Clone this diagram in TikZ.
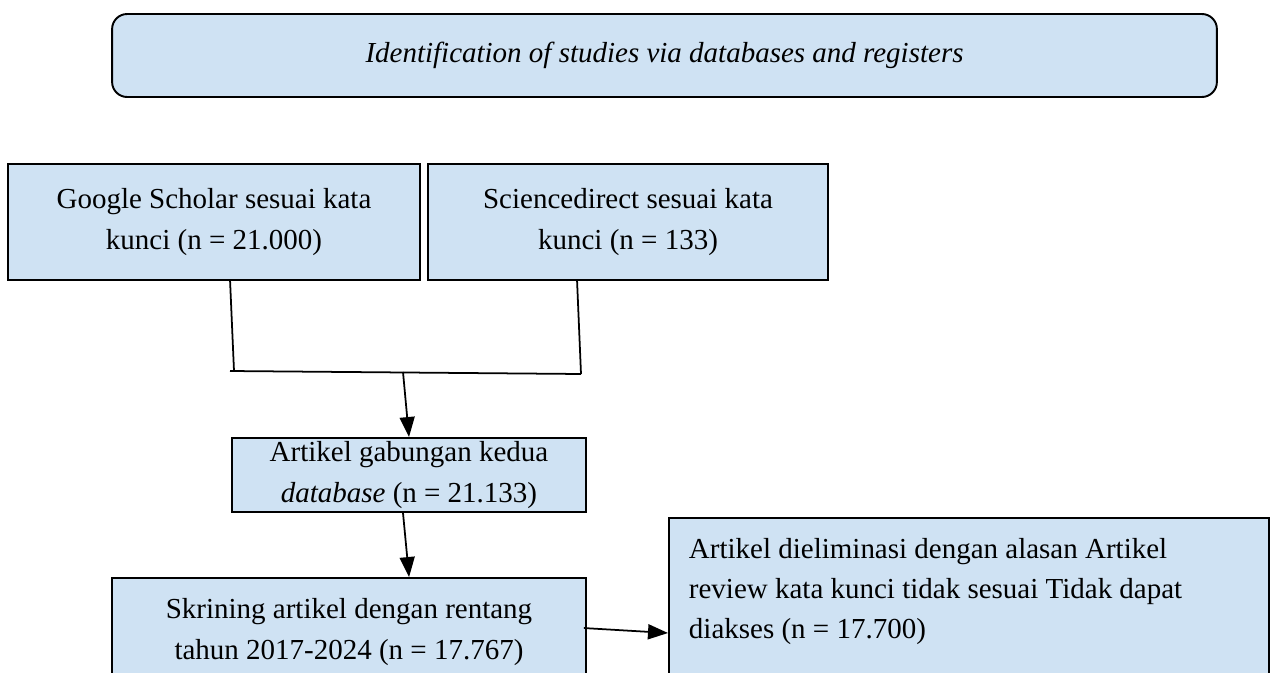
\documentclass[tikz,border=0pt]{standalone}
\usepackage{fontspec}
\setmainfont{Liberation Serif}
\usetikzlibrary{arrows.meta,calc}
\definecolor{boxblue}{HTML}{CFE2F3}
\begin{document}
\begin{tikzpicture}[
            x=0.02cm, y=-0.02cm,
            >={Triangle[length=0.4cm,width=0.3cm]},
            font=\fontsize{16.5}{22.8}\selectfont,
            box/.style={rectangle, draw, line width=1.1pt, fill=boxblue, align=center, inner sep=0pt},
            head/.style={box, rounded corners=0.3cm},
            link/.style={line width=1pt},
            ]
            \useasboundingbox (0,0) rectangle (1275,673);
            \clip (0,0) rectangle (1275,673);
            \node (id) [head, minimum width=22.1cm, minimum height=1.66cm] at (664.5,55.5) {\itshape Identification of studies via databases and registers};
            \node (gs) [box, minimum width=8.24cm, minimum height=2.32cm] at (214,222) {Google Scholar sesuai kata\\kunci (n = 21.000)};
            \node (sd) [box, minimum width=8.0cm, minimum height=2.32cm] at (628,222) {Sciencedirect sesuai kata\\kunci (n = 133)};
            \node (ag) [box, minimum width=7.08cm, minimum height=1.48cm] at (409,475) {Artikel gabungan kedua\\\textit{database} (n = 21.133)};
            \node (sk) [box, minimum width=9.48cm, minimum height=2.16cm] at (349,632) {Skrining artikel dengan rentang\\tahun 2017-2024 (n = 17.767)};
            \node (el) [box, anchor=north west, inner sep=0.4cm] at (668,517) {\parbox[c][3.2cm][t]{11.2cm}{\raggedright Artikel dieliminasi dengan alasan Artikel\\review kata kunci tidak sesuai Tidak dapat\\diakses (n = 17.700)}};

            \coordinate (gsb) at ($(gs.south west)+(223,0)$);
            \coordinate (sdb) at ($(sd.south west)+(150,0)$);
            \coordinate (jl) at (234,371);
            \coordinate (jr) at (581,374);
            \coordinate (jm) at (403,372);
            \draw[link] (gsb) -- (jl);
            \draw[link] (sdb) -- (jr);
            \draw[link] ($(jl)+(-4,0)$) -- (jr);
            \draw[link,->] (jm) -- (ag.north);
            \draw[link,->] ($(ag.south)+(-6,0)$) -- ($(sk.north west)+(298,0)$);
            \draw[link,->] ($(sk.north east)+(-3,51)$) -- (el.west |- 0,633);
        \end{tikzpicture}
\end{document}
